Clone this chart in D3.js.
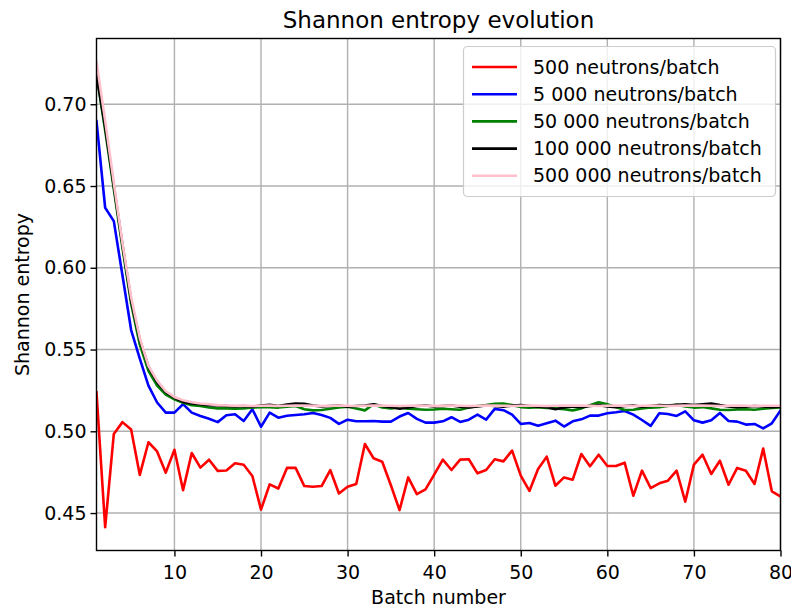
<!DOCTYPE html>
<html><head><meta charset="utf-8">
<script src="https://cdn.jsdelivr.net/npm/d3@7/dist/d3.min.js"></script>
<style>body{margin:0;background:#fff}svg{display:block}text{font-family:"DejaVu Sans",sans-serif}</style>
</head><body><svg id="c" width="791" height="610"></svg>
<script>
const batches = d3.range(1, 81);
const xTicks = [10,20,30,40,50,60,70,80];
const yTicks = [0.45,0.50,0.55,0.60,0.65,0.70];
const seriesNames = ["500 neutrons/batch","5 000 neutrons/batch","50 000 neutrons/batch","100 000 neutrons/batch","500 000 neutrons/batch"];
const seriesColors = ["#ff0000","#0000ff","#008000","#000000","#ffc0cb"];

const red = [0.5238,0.4413,0.4984,0.5056,0.5011,0.4733,0.4933,0.4877,0.4747,0.4887,
0.4640,0.4867,0.4778,0.4826,0.4758,0.4760,0.4805,0.4795,0.4727,0.4521,
0.4675,0.4650,0.4776,0.4776,0.4665,0.4661,0.4665,0.4763,0.4620,0.4661,
0.4678,0.4922,0.4835,0.4814,0.4670,0.4518,0.4718,0.4616,0.4645,0.4735,
0.4827,0.4763,0.4827,0.4829,0.4743,0.4763,0.4829,0.4816,0.4882,0.4729,
0.4635,0.4770,0.4845,0.4667,0.4718,0.4704,0.4861,0.4786,0.4857,0.4788,
0.4788,0.4808,0.4606,0.4759,0.4653,0.4682,0.4698,0.4759,0.4569,0.4796,
0.4857,0.4739,0.4820,0.4673,0.4776,0.4759,0.4678,0.4894,0.4633,0.4602];

const blue = [0.6897,0.6367,0.6285,0.5953,0.5619,0.5444,0.5279,0.5176,0.5114,0.5114,
0.5166,0.5114,0.5094,0.5077,0.5056,0.5098,0.5104,0.5063,0.5135,0.5028,
0.5114,0.5083,0.5095,0.5100,0.5104,0.5112,0.5100,0.5082,0.5045,0.5071,
0.5061,0.5061,0.5063,0.5059,0.5059,0.5090,0.5112,0.5076,0.5053,0.5053,
0.5061,0.5086,0.5057,0.5071,0.5102,0.5071,0.5137,0.5129,0.5102,0.5045,
0.5051,0.5034,0.5049,0.5065,0.5029,0.5061,0.5073,0.5096,0.5096,0.5110,
0.5116,0.5124,0.5102,0.5069,0.5033,0.5110,0.5106,0.5094,0.5122,0.5067,
0.5053,0.5067,0.5112,0.5063,0.5059,0.5041,0.5045,0.5018,0.5049,0.5127];

const green = [0.718,0.684,0.648,0.612,0.578,0.553,0.537,0.528,0.5225,0.5195,
0.5175,0.5160,0.5155,0.5145,0.5140,0.5140,0.5138,0.5140,0.5145,0.5148,
0.5148,0.5145,0.5150,0.5155,0.5135,0.5128,0.5130,0.5138,0.5145,0.5150,
0.5140,0.5128,0.5165,0.5145,0.5140,0.5145,0.5138,0.5135,0.5132,0.5133,
0.5138,0.5135,0.5132,0.5145,0.5155,0.5160,0.5168,0.5170,0.5160,0.5148,
0.5145,0.5148,0.5142,0.5140,0.5135,0.5128,0.5140,0.5160,0.5178,0.5165,
0.5148,0.5130,0.5132,0.5140,0.5145,0.5148,0.5155,0.5162,0.5152,0.5145,
0.5148,0.5140,0.5132,0.5130,0.5133,0.5135,0.5132,0.5138,0.5142,0.5145];

const black = [0.718,0.686,0.650,0.614,0.580,0.556,0.5395,0.530,0.524,0.5205,
0.5180,0.5170,0.5165,0.5160,0.5158,0.5155,0.5152,0.5155,0.5150,0.5158,
0.5162,0.5155,0.5163,0.5170,0.5168,0.5158,0.5152,0.5155,0.5158,0.5150,
0.5155,0.5158,0.5165,0.5155,0.5148,0.5138,0.5145,0.5155,0.5158,0.5152,
0.5155,0.5158,0.5150,0.5145,0.5152,0.5158,0.5155,0.5150,0.5158,0.5160,
0.5155,0.5150,0.5148,0.5135,0.5145,0.5152,0.5148,0.5155,0.5160,0.5152,
0.5148,0.5155,0.5158,0.5150,0.5155,0.5160,0.5158,0.5162,0.5165,0.5160,
0.5165,0.5170,0.5160,0.5152,0.5148,0.5150,0.5155,0.5152,0.5148,0.5152];

const pink = [0.726,0.690,0.652,0.615,0.582,0.557,0.540,0.531,0.5245,0.5210,
0.5190,0.5178,0.5170,0.5165,0.5160,0.5158,0.5156,0.5157,0.5155,0.5156,
0.5157,0.5155,0.5156,0.5157,0.5158,0.5156,0.5155,0.5156,0.5157,0.5156,
0.5155,0.5156,0.5158,0.5157,0.5156,0.5155,0.5156,0.5157,0.5156,0.5155,
0.5156,0.5157,0.5156,0.5155,0.5156,0.5157,0.5158,0.5156,0.5155,0.5156,
0.5157,0.5156,0.5155,0.5156,0.5157,0.5158,0.5157,0.5156,0.5155,0.5156,
0.5157,0.5156,0.5155,0.5156,0.5157,0.5156,0.5155,0.5156,0.5157,0.5158,
0.5157,0.5156,0.5155,0.5156,0.5157,0.5156,0.5155,0.5156,0.5156,0.5156];

const series = [red, blue, green, black, pink];

const svg = d3.select("#c");
const M = {left: 96.5, right: 780.5, top: 38.5, bottom: 550.5};
const x = d3.scaleLinear().domain([1, 80]).range([M.left, M.right]);
const y = d3.scaleLinear().domain([0.4271, 0.7402]).range([M.bottom, M.top]);
const FS = 19;

// grid
const g = svg.append("g");
g.selectAll(".gx").data(xTicks).join("line")
  .attr("x1", d => x(d)).attr("x2", d => x(d)).attr("y1", M.top).attr("y2", M.bottom)
  .attr("stroke", "#b0b0b0").attr("stroke-width", 1.4);
g.selectAll(".gy").data(yTicks).join("line")
  .attr("y1", d => y(d)).attr("y2", d => y(d)).attr("x1", M.left).attr("x2", M.right)
  .attr("stroke", "#b0b0b0").attr("stroke-width", 1.4);

// lines
svg.append("clipPath").attr("id", "clip").append("rect")
  .attr("x", M.left).attr("y", M.top).attr("width", M.right - M.left).attr("height", M.bottom - M.top);
const line = d3.line().x((d, i) => x(batches[i])).y(d => y(d));
const lg = svg.append("g").attr("clip-path", "url(#clip)");
series.forEach((s, k) => {
  lg.append("path").datum(s).attr("d", line).attr("fill", "none")
    .attr("stroke", seriesColors[k]).attr("stroke-width", 2.6)
    .attr("stroke-linejoin", "round").attr("stroke-linecap", "square");
});

// axes
const xAxis = d3.axisBottom(x).tickValues(xTicks).tickFormat(d3.format("d")).tickSize(6).tickPadding(9);
const yAxis = d3.axisLeft(y).tickValues(yTicks).tickFormat(d3.format(".2f")).tickSize(6).tickPadding(4);
const xa = svg.append("g").attr("transform", `translate(0,${M.bottom})`).call(xAxis);
const ya = svg.append("g").attr("transform", `translate(${M.left},0)`).call(yAxis);
[xa, ya].forEach(a => {
  a.select(".domain").remove();
  a.selectAll("line").attr("stroke", "#000").attr("stroke-width", 1.4);
  a.selectAll("text").attr("font-size", FS).attr("fill", "#000").attr("font-family", "DejaVu Sans");
});
svg.append("rect").attr("x", M.left).attr("y", M.top).attr("width", M.right - M.left).attr("height", M.bottom - M.top)
  .attr("fill", "none").attr("stroke", "#000").attr("stroke-width", 1.4);

// labels
svg.append("text").attr("x", (M.left + M.right) / 2).attr("y", 28).attr("text-anchor", "middle")
  .attr("font-size", 23).text("Shannon entropy evolution");
svg.append("text").attr("x", (M.left + M.right) / 2).attr("y", 604).attr("text-anchor", "middle")
  .attr("font-size", FS).text("Batch number");
svg.append("text").attr("transform", `translate(29,${(M.top + M.bottom) / 2}) rotate(-90)`).attr("text-anchor", "middle")
  .attr("font-size", FS).text("Shannon entropy");

// legend
const L = {x: 463.5, y: 46.5, w: 312, h: 150};
svg.append("rect").attr("x", L.x).attr("y", L.y).attr("width", L.w).attr("height", L.h).attr("rx", 4)
  .attr("fill", "#fff").attr("fill-opacity", 0.8).attr("stroke", "#cccccc").attr("stroke-width", 1.2);
seriesNames.forEach((n, k) => {
  const yy = 67 + k * 27.2;
  svg.append("line").attr("x1", 472).attr("x2", 517).attr("y1", yy).attr("y2", yy)
    .attr("stroke", seriesColors[k]).attr("stroke-width", 2.6);
  svg.append("text").attr("x", 533).attr("y", yy + 6.5).attr("font-size", FS).text(n);
});
</script></body></html>
